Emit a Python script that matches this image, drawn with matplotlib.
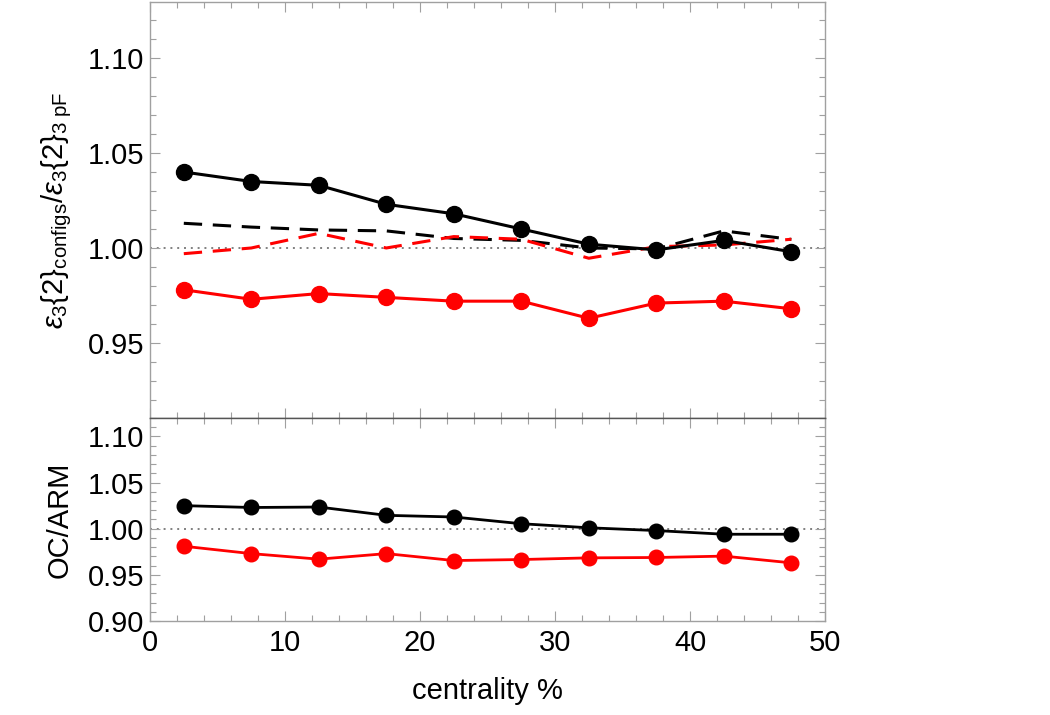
import numpy as np
import matplotlib
matplotlib.use('Agg')
import matplotlib.pyplot as plt
from matplotlib.ticker import MultipleLocator

plt.rcParams['font.family'] = ['Liberation Sans', 'DejaVu Sans']
plt.rcParams['mathtext.fontset'] = 'custom'
plt.rcParams['mathtext.rm'] = 'Liberation Sans'
plt.rcParams['mathtext.it'] = 'Liberation Sans:italic'

# datos
centralidad = [2.5, 7.5, 12.5, 17.5, 22.5, 27.5, 32.5, 37.5, 42.5, 47.5]

# panel superior
arriba_negro = [1.040, 1.035, 1.033, 1.023, 1.018, 1.010, 1.002, 0.999, 1.004, 0.998]
arriba_rojo = [0.978, 0.973, 0.976, 0.974, 0.972, 0.972, 0.963, 0.971, 0.972, 0.968]
arriba_negro_guion = [1.013, 1.011, 1.0095, 1.009, 1.005, 1.004, 1.000, 0.9995, 1.009, 1.0045]
arriba_rojo_guion = [0.997, 1.000, 1.0077, 1.000, 1.006, 1.0046, 0.9946, 1.0007, 1.0016, 1.0046]

# panel inferior
abajo_negro = [1.025, 1.023, 1.0235, 1.0145, 1.0127, 1.0054, 1.001, 0.998, 0.994, 0.994]
abajo_rojo = [0.981, 0.973, 0.967, 0.973, 0.9655, 0.9666, 0.9684, 0.9688, 0.9703, 0.963]

fig = plt.figure(figsize=(10.5, 7.15), dpi=100)
ax1 = fig.add_axes([0.1429, 0.4154, 0.6429, 0.5818])
ax2 = fig.add_axes([0.1429, 0.1315, 0.6429, 0.2839])

gris = '#a0a0a0'
tam = 21


def estilo(ax):
    for s in ax.spines.values():
        s.set_color(gris)
        s.set_linewidth(1.0)
    ax.tick_params(which='both', direction='in', top=True, right=True,
                   color=gris, labelsize=tam, width=0.8)
    ax.tick_params(which='major', length=7)
    ax.tick_params(which='minor', length=4)
    ax.tick_params(axis='x', pad=6)
    ax.tick_params(axis='y', pad=4)
    ax.xaxis.set_major_locator(MultipleLocator(10))
    ax.xaxis.set_minor_locator(MultipleLocator(2))
    ax.yaxis.set_major_locator(MultipleLocator(0.05))
    ax.yaxis.set_minor_locator(MultipleLocator(0.01))
    ax.set_xlim(0, 50)
    ax.axhline(1.0, color='#808080', linestyle=(0, (1, 2.5)), linewidth=1.4, zorder=1)


estilo(ax1)
estilo(ax2)

ax1.plot(centralidad, arriba_negro_guion, color='black', linestyle=(0, (6, 3.5)), linewidth=2.2)
ax1.plot(centralidad, arriba_rojo_guion, color='red', linestyle=(0, (6, 3.5)), linewidth=2.2)
ax1.plot(centralidad, arriba_negro, color='black', marker='o', markersize=11.5, linewidth=2.2)
ax1.plot(centralidad, arriba_rojo, color='red', marker='o', markersize=11.5, linewidth=2.2)
ax1.set_ylim(0.9105, 1.1295)
ax1.set_yticks([0.95, 1.00, 1.05, 1.10])
ax1.yaxis.set_major_formatter(plt.FormatStrFormatter('%.2f'))
ax1.tick_params(axis='x', labelbottom=False)
ax1.spines['bottom'].set_color('#555555')
ax1.set_ylabel(r'$\varepsilon_3\{2\}_{\rm configs}/\varepsilon_3\{2\}_{3\ \rm pF}$', fontsize=tam, labelpad=10)

ax2.plot(centralidad, abajo_negro, color='black', marker='o', markersize=10.5, linewidth=2)
ax2.plot(centralidad, abajo_rojo, color='red', marker='o', markersize=10.5, linewidth=2)
ax2.set_ylim(0.90, 1.12)
ax2.yaxis.set_major_formatter(plt.FormatStrFormatter('%.2f'))
ax2.spines['top'].set_color('#555555')
ax2.set_ylabel('OC/ARM', fontsize=tam, labelpad=10)
ax2.set_xlabel('centrality %', fontsize=tam, labelpad=14)

fig.align_ylabels([ax1, ax2])
fig.savefig('out.png', dpi=100)
